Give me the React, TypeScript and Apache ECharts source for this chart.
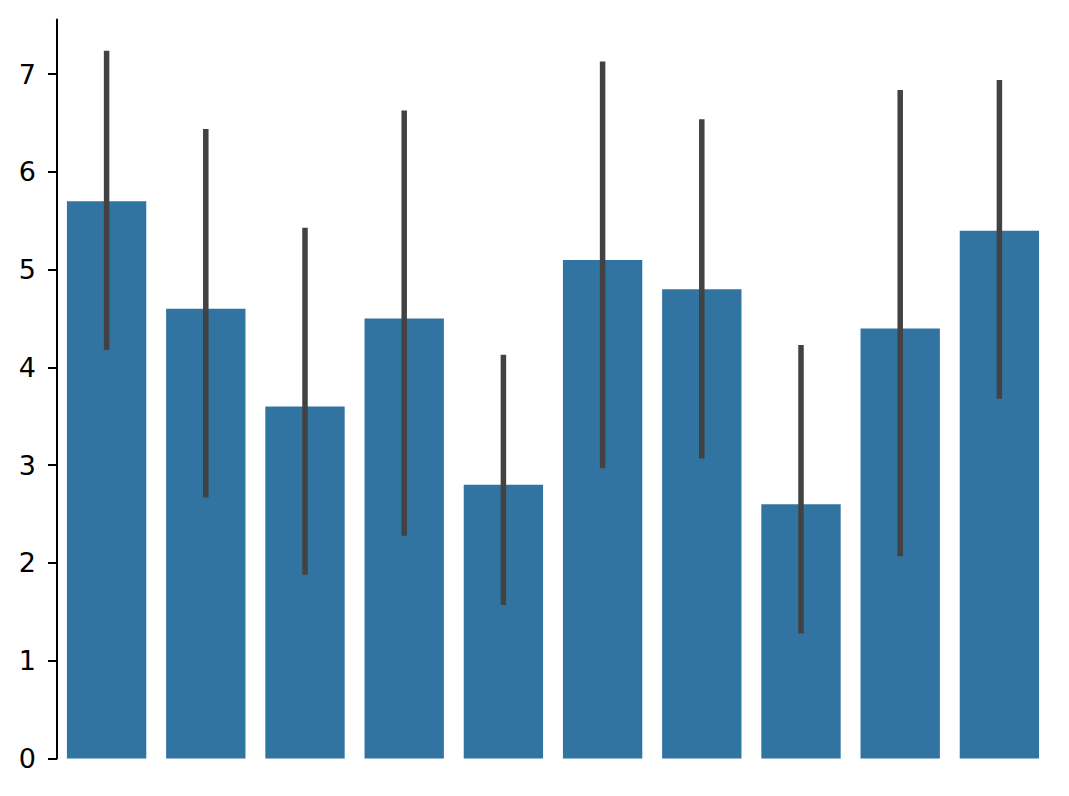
import { useRef, useEffect } from 'react';
import * as echarts from 'echarts';

const categories = ['0', '1', '2', '3', '4', '5', '6', '7', '8', '9'];
const means = [5.7, 4.6, 3.6, 4.5, 2.8, 5.1, 4.8, 2.6, 4.4, 5.4];
const errLow = [4.18, 2.67, 1.88, 2.28, 1.57, 2.97, 3.07, 1.28, 2.07, 3.68];
const errHigh = [7.24, 6.44, 5.43, 6.63, 4.13, 7.13, 6.54, 4.23, 6.84, 6.94];
const yTicks = [0, 1, 2, 3, 4, 5, 6, 7];

const App: React.FC = () => {
    const chartRef = useRef<HTMLDivElement>(null);

    useEffect(() => {
        if (!chartRef.current) return;
        const chart = echarts.init(chartRef.current, undefined, { renderer: 'svg' });

        const option: echarts.EChartsOption = {
            animation: false,
            grid: { left: 57, right: 20, top: 19.5, bottom: 37.5 },
            xAxis: {
                type: 'category',
                data: categories,
                boundaryGap: true,
                axisLine: { show: false },
                axisTick: { show: false },
                axisLabel: { show: false },
            },
            yAxis: {
                type: 'value',
                min: 0,
                max: 7.56,
                interval: 1,
                splitLine: { show: false },
                axisLine: { show: true, lineStyle: { color: '#000', width: 2 } },
                axisTick: {
                    show: true,
                    length: 9,
                    lineStyle: { color: '#000', width: 2 },
                    customValues: yTicks,
                },
                axisLabel: {
                    color: '#000',
                    fontSize: 27,
                    fontFamily: 'DejaVu Sans',
                    margin: 21,
                    customValues: yTicks,
                },
            },
            series: [
                {
                    type: 'bar',
                    data: means,
                    barWidth: '80%',
                    itemStyle: { color: '#3274a1' },
                },
                {
                    type: 'custom',
                    z: 10,
                    data: categories.map((_, i) => [i, errLow[i], errHigh[i]]),
                    renderItem: (params: any, api: any) => {
                        const lo = api.coord([api.value(0), api.value(1)]);
                        const hi = api.coord([api.value(0), api.value(2)]);
                        return {
                            type: 'line',
                            shape: { x1: lo[0], y1: lo[1], x2: hi[0], y2: hi[1] },
                            style: { stroke: '#424242', lineWidth: 5.5 },
                        };
                    },
                },
            ],
        };

        chart.setOption(option);
        return () => {
            chart.dispose();
        };
    }, []);

    return (
        <div
            ref={chartRef}
            style={{ position: 'fixed', left: 0, top: 0, width: '1069px', height: '796px', background: '#fff' }}
        />
    );
};

export default App;
